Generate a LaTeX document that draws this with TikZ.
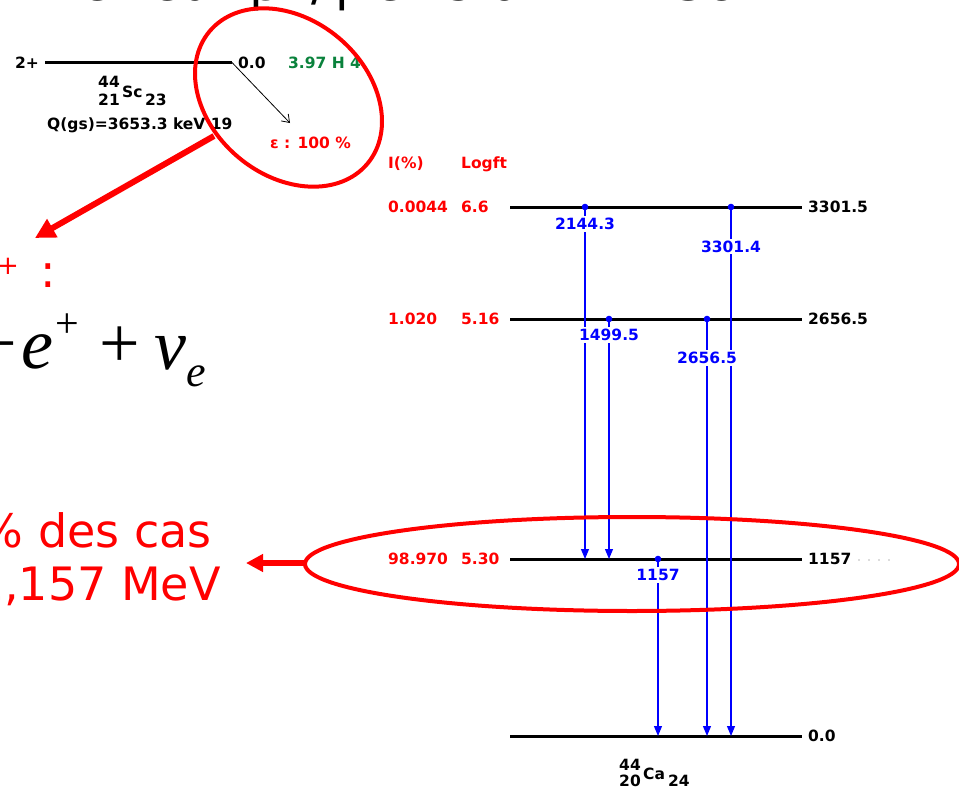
\documentclass[tikz,border=0pt]{standalone}
\usepackage{fontspec}
\setmainfont{DejaVu Sans}
\newfontfamily\eqserif{Liberation Serif}
\usetikzlibrary{arrows.meta}
\definecolor{schred}{RGB}{255,0,0}
\definecolor{schgreen}{RGB}{10,130,60}
\definecolor{schblue}{RGB}{0,0,255}
\begin{document}
\begin{tikzpicture}[x=1pt,y=-1pt,
  lab/.style={font=\fontsize{15.5}{18}\selectfont\bfseries, inner sep=0pt},
  redlab/.style={lab, text=schred},
  glab/.style={lab, text=schblue, fill=white, inner xsep=1pt, inner ysep=2pt},
  lvl/.style={line width=3pt, black},
  gam/.style={schblue, line width=1.1pt, -{Triangle[length=10pt,width=8pt]}},
  gdot/.style={fill=schblue},
  bigtxt/.style={font=\fontsize{46}{50}\selectfont, text=schred, inner sep=0pt},
  eqtxt/.style={inner sep=0pt, text=black},
  callout/.style={schred, line width=4pt},
  fatarrow/.style={schred, line width=6pt}]
\useasboundingbox (0,0) rectangle (959,787);
\clip (0,0) rectangle (959,787);

% title fragment
\node[anchor=base west, inner sep=0pt, font=\fontsize{50}{55}\selectfont] (title) at (0,1)
  {Émetteur β\textsuperscript{+}/γ existant : \textsuperscript{44}Sc};

% left slide text
\node[bigtxt, anchor=base east] (bplus) at (56.5,287)
  {Désintégration β\raisebox{12.6pt}{\fontsize{26}{26}\selectfont +}\hspace{22pt}:};
\node[eqtxt, anchor=base, font=\eqserif\fontsize{72}{72}\selectfont] (eqp0) at (-3,367) {+};
\node[eqtxt, anchor=base, font=\eqserif\itshape\fontsize{72}{72}\selectfont] (eqe) at (37,368) {e};
\node[eqtxt, anchor=base, font=\eqserif\fontsize{42}{42}\selectfont] (eqsup) at (67.5,337) {+};
\node[eqtxt, anchor=base, font=\eqserif\fontsize{72}{72}\selectfont] (eqp1) at (120,367) {+};
\node[eqtxt, anchor=base, font=\eqserif\itshape\fontsize{72}{72}\selectfont] (eqnu) at (170,369) {ν};
\node[eqtxt, anchor=base, font=\eqserif\itshape\fontsize{44}{44}\selectfont] (eqsub) at (196.5,386) {e};
\node[bigtxt, anchor=base east] (cas1) at (212,547) {99 \% des cas};
\node[bigtxt, anchor=base east] (cas2) at (221,600) {1,157 MeV};

% parent
\node[lab, anchor=east] (spin) at (39,62.5) {2+};
\coordinate (P0a) at (45,62.5);
\coordinate (P0b) at (232,62.5);
\draw[lvl] (P0a) -- (P0b);
\node[lab, anchor=west] (pE) at (238,62.5) {0.0};
\node[lab, anchor=west, text=schgreen] (pT) at (288,62.5) {3.97 H 4};
\node[lab, anchor=base east] (scA) at (120,87) {44};
\node[lab, anchor=base east] (scZ) at (120,105) {21};
\node[lab, anchor=base west] (scX) at (122,97) {Sc};
\node[lab, anchor=base west] (scN) at (145,105) {23};
\node[lab, anchor=base west] (qval) at (47,129) {Q(gs)=3653.3 keV 19};
\coordinate (ecEnd) at (290,123);
\draw[line width=0.8pt, -{Straight Barb[length=7pt,width=10pt]}] (P0b) -- (ecEnd);
\node[redlab, anchor=base west] (ec) at (270,148) {ε : 100 \%};

% header
\node[redlab, anchor=base west] (hI) at (388,168) {I(\%)};
\node[redlab, anchor=base west] (hL) at (461,168) {Logft};

% daughter levels
\foreach \nm/\y/\I/\L/\E in {L3/207/0.0044/6.6/3301.5, L2/319/1.020/5.16/2656.5, L1/559/98.970/5.30/1157}{
  \coordinate (\nm a) at (510,\y);
  \coordinate (\nm b) at (802,\y);
  \draw[lvl] (\nm a) -- (\nm b);
  \node[redlab, anchor=west] (\nm I) at (388,\y) {\I};
  \node[redlab, anchor=west] (\nm L) at (461,\y) {\L};
  \node[lab, anchor=west] (\nm E) at (808,\y) {\E};
}
\coordinate (L0a) at (510,736);
\coordinate (L0b) at (802,736);
\draw[lvl] (L0a) -- (L0b);
\node[lab, anchor=west] (L0E) at (808,736) {0.0};
\foreach \xx in {859,869,879,889}{\fill[gray!55] (\xx,560) circle[radius=0.9pt];}
\node[lab, anchor=base east] (caA) at (641,770) {44};
\node[lab, anchor=base east] (caZ) at (641,786) {20};
\node[lab, anchor=base west] (caX) at (643,779) {Ca};
\node[lab, anchor=base west] (caN) at (668,786) {24};

% gammas
\foreach \g/\xx/\ys/\ye in {ga/585/207/559, gb/731/207/736, gc/609/319/559, gd/707/319/736, ge/658/559/736}{
  \coordinate (\g s) at (\xx,\ys);
  \coordinate (\g e) at (\xx,\ye);
  \draw[gam] (\g s) -- (\g e);
  \fill[gdot] (\g s) circle[radius=3.3pt];
}
\node[glab] (gaL) at (585,224) {2144.3};
\node[glab] (gbL) at (731,246.5) {3301.4};
\node[glab] (gcL) at (609,335) {1499.5};
\node[glab] (gdL) at (707,358) {2656.5};
\node[glab] (geL) at (658,575) {1157};

% red callouts
\draw[callout, rotate around={-40:(288.5,97.5)}] (288.5,97.5) ellipse [x radius=103, y radius=78];
\coordinate (a1s) at (214,136);
\coordinate (a1e) at (35,238);
\draw[fatarrow, -{Triangle[length=20pt,width=20pt]}] (a1s) -- (a1e);
\draw[callout] (632,564) ellipse [x radius=327, y radius=47];
\coordinate (a2s) at (306,563);
\coordinate (a2e) at (246,563);
\draw[fatarrow, -{Triangle[length=17pt,width=17pt]}] (a2s) -- (a2e);
\end{tikzpicture}
\end{document}
